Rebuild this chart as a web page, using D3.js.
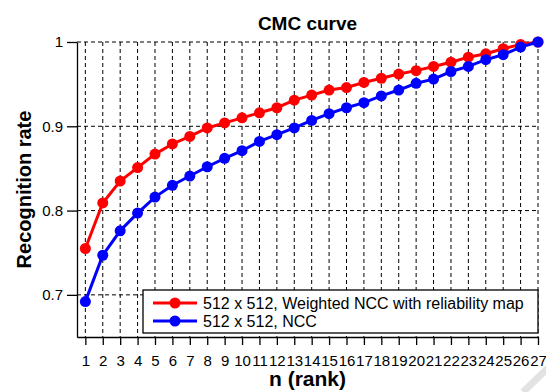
<!DOCTYPE html>
<html>
<head>
<meta charset="utf-8">
<script src="https://cdn.jsdelivr.net/npm/d3@7"></script>
<style>
  body { margin: 0; background: #fff; }
  svg { font-family: "Liberation Sans", Arial, sans-serif; }
</style>
</head>
<body>
<svg width="546" height="392"></svg>
<script>
const ranks = d3.range(1, 28);
const weighted = [0.755, 0.809, 0.835, 0.851, 0.867, 0.879, 0.888, 0.898, 0.904, 0.910,
  0.916, 0.922, 0.931, 0.937, 0.943, 0.946, 0.952, 0.957, 0.962, 0.966,
  0.971, 0.976, 0.982, 0.986, 0.992, 0.997, 1.0];
const ncc = [0.692, 0.747, 0.776, 0.797, 0.816, 0.830, 0.841, 0.852, 0.862, 0.871,
  0.882, 0.890, 0.898, 0.907, 0.915, 0.922, 0.928, 0.936, 0.943, 0.951,
  0.956, 0.965, 0.971, 0.979, 0.985, 0.994, 1.0];
const yTicks = [0.7, 0.8, 0.9, 1];
const seriesNames = ['512 x 512, Weighted NCC with reliability map', '512 x 512, NCC'];
const seriesColors = ['#ff0000', '#0000ff'];

const svg = d3.select('svg');
const plotL = 77, plotR = 538, plotT = 42, plotB = 337;

const x = d3.scaleLinear().domain([0.52, 27]).range([plotL, plotR]);
const y = d3.scaleLinear().domain([0.65, 1]).range([plotB, plotT]);

// faint watermark stroke in the corner
svg.append('line')
  .attr('x1', 523).attr('y1', 392).attr('x2', 548).attr('y2', 368)
  .attr('stroke', '#e2e2e2').attr('stroke-width', 7);

// grid
const grid = svg.append('g')
  .attr('stroke', '#000').attr('stroke-width', 1).attr('stroke-dasharray', '4,3');
grid.selectAll('.vg').data(ranks).enter().append('line')
  .attr('x1', d => x(d)).attr('x2', d => x(d))
  .attr('y1', y(1)).attr('y2', plotB);
grid.selectAll('.hg').data(yTicks).enter().append('line')
  .attr('x1', plotL).attr('x2', plotR)
  .attr('y1', d => y(d)).attr('y2', d => y(d));

// axes
const xAxis = svg.append('g')
  .attr('transform', `translate(0,${plotB})`)
  .call(d3.axisBottom(x).tickValues(ranks).tickFormat(d3.format('d'))
    .tickSize(8).tickPadding(10).tickSizeOuter(0));
xAxis.select('.domain').attr('stroke-width', 1.3);
xAxis.selectAll('.tick line').attr('stroke-width', 1.3);
xAxis.selectAll('text').attr('font-size', 15).attr('font-family', null).attr('fill', '#000');

const yAxis = svg.append('g')
  .attr('transform', `translate(${plotL},0)`)
  .call(d3.axisLeft(y).tickValues(yTicks).tickFormat(d => d === 1 ? '1' : d3.format('.1f')(d))
    .tickSize(10).tickPadding(4).tickSizeOuter(0));
yAxis.select('.domain').attr('stroke-width', 1.3);
yAxis.selectAll('.tick line').attr('stroke-width', 1.3);
yAxis.selectAll('text').attr('font-size', 15).attr('font-family', null).attr('fill', '#000');

// series
const series = [weighted, ncc];
const line = d3.line().x((d, i) => x(ranks[i])).y(d => y(d));
series.forEach((vals, k) => {
  const g = svg.append('g');
  g.append('path').datum(vals)
    .attr('d', line).attr('fill', 'none')
    .attr('stroke', seriesColors[k]).attr('stroke-width', 3);
  g.selectAll('circle').data(vals).enter().append('circle')
    .attr('cx', (d, i) => x(ranks[i])).attr('cy', d => y(d))
    .attr('r', 5.5).attr('fill', seriesColors[k]);
});

// titles
svg.append('text')
  .attr('x', (plotL + plotR) / 2).attr('y', 30)
  .attr('text-anchor', 'middle').attr('font-weight', 'bold').attr('font-size', 19)
  .text('CMC curve');
svg.append('text')
  .attr('x', (plotL + plotR) / 2).attr('y', 386)
  .attr('text-anchor', 'middle').attr('font-weight', 'bold').attr('font-size', 21)
  .text('n (rank)');
svg.append('text')
  .attr('transform', `translate(31,${(plotT + plotB) / 2}) rotate(-90)`)
  .attr('text-anchor', 'middle').attr('font-weight', 'bold').attr('font-size', 20)
  .text('Recognition rate');

// legend
const legend = svg.append('g').attr('transform', 'translate(143,290)');
legend.append('rect')
  .attr('width', 395).attr('height', 43)
  .attr('fill', '#fff').attr('stroke', '#000').attr('stroke-width', 1.3);
seriesNames.forEach((name, k) => {
  const ly = 13 + k * 18;
  legend.append('line')
    .attr('x1', 10).attr('x2', 54).attr('y1', ly).attr('y2', ly)
    .attr('stroke', seriesColors[k]).attr('stroke-width', 3);
  legend.append('circle')
    .attr('cx', 32).attr('cy', ly).attr('r', 5.5).attr('fill', seriesColors[k]);
  legend.append('text')
    .attr('x', 60).attr('y', ly + 5.5)
    .attr('font-size', 16)
    .text(name);
});
</script>
</body>
</html>
